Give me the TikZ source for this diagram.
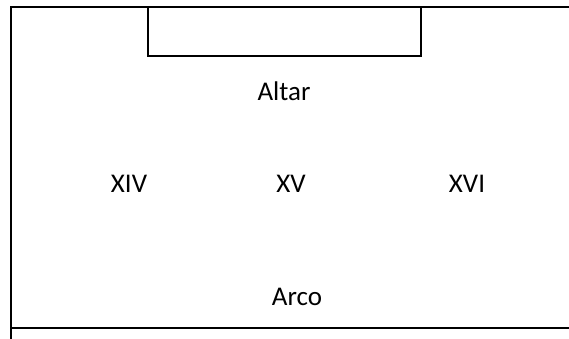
\documentclass[tikz,border=0pt]{standalone}
\usepackage{fontspec}
\setmainfont{Carlito}
\begin{document}
\begin{tikzpicture}[x=1pt,y=-1pt,
  wall/.style={draw=black,line width=1.3pt},
  label/.style={font=\fontsize{27}{32}\selectfont,anchor=base,inner sep=0pt}]
\useasboundingbox (0,0) rectangle (569,339);
% outer walls of the plan
\coordinate (tr) at (569,7);
\coordinate (tl) at (11,7);
\coordinate (bl) at (11,339);
\coordinate (ml) at (11,328);
\coordinate (mr) at (569,328);
\draw[wall] (tr) -- (tl) -- (bl);
\draw[wall] (ml) -- (mr);
% altar table
\draw[wall] (148,7) rectangle (421,56);
% labels
\node[label] (altar) at (284,101) {Altar};
\node[label] (xiv) at (129,192) {XIV};
\node[label] (xv) at (291,192) {XV};
\node[label] (xvi) at (467,192) {XVI};
\node[label] (arco) at (297,305) {Arco};
\end{tikzpicture}
\end{document}
